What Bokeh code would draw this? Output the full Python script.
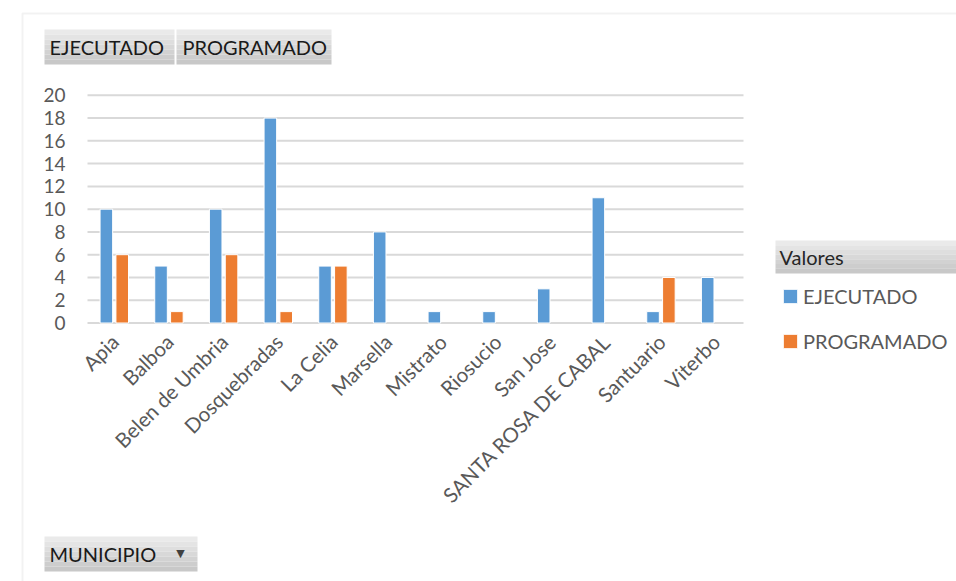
import numpy as np
from bokeh.plotting import figure
from bokeh.models import (ColumnDataSource, Range1d, Legend, LegendItem, Label,
                          BoxAnnotation, FixedTicker, LinearAxis)
from bokeh.transform import dodge
from bokeh.embed import file_html
from bokeh.resources import INLINE
from math import pi

categories = ["Apia", "Balboa", "Belen de Umbria", "Dosquebradas", "La Celia", "Marsella",
              "Mistrato", "Riosucio", "San Jose", "SANTA ROSA DE CABAL", "Santuario", "Viterbo"]
ejecutado = [10, 5, 10, 18, 5, 8, 1, 1, 3, 11, 1, 4]
programado = [6, 1, 6, 1, 5, None, None, None, None, None, 4, None]
y_ticks = [0, 2, 4, 6, 8, 10, 12, 14, 16, 18, 20]
series_names = ["EJECUTADO", "PROGRAMADO"]
axis_field = "MUNICIPIO"
legend_title = "Valores"

FONT = "Lato"
BLUE = "#5b9bd5"
ORANGE = "#ed7d31"
GRID = "#d9d9d9"

W, H = 956, 581
# plot area (pixels) inside the full-canvas frame
PX0, PX1 = 87, 743          # left/right of the category band
PY0, PY20 = 322.5, 94.8     # pixel rows of y=0 and y=20
n = len(categories)
U = (PX1 - PX0) / n
V = (PY0 - PY20) / 20.0
xs = -0.5 - PX0 / U
xe = xs + W / U
ys = -(H - PY0) / V
ye = PY0 / V

idx = np.arange(n)
src = ColumnDataSource(dict(
    idx=idx,
    cat=categories,
    eje=np.array(ejecutado, dtype=float),
    pro=np.array([np.nan if v is None else v for v in programado], dtype=float),
))

p = figure(width=W, height=H, output_backend="svg", toolbar_location=None,
           x_range=Range1d(xs, xe), y_range=Range1d(ys, ye),
           x_axis_type=None, y_axis_type=None,
           min_border=0, min_border_left=0, min_border_right=0,
           min_border_top=0, min_border_bottom=0,
           background_fill_color="white", border_fill_color="white")
p.outline_line_color = None

# outer chart border
p.add_layout(BoxAnnotation(left=22, right=2000, top=H - 13, bottom=-1000,
                           left_units="screen", right_units="screen", top_units="screen",
                           bottom_units="screen", fill_color=None, line_color="#d4d4d4",
                           line_width=2, level="underlay"))

# gridlines at the y ticks across the category band
p.segment(x0=-0.5, x1=n - 0.5, y0=y_ticks, y1=y_ticks, line_color=GRID, line_width=2)

r1 = p.vbar(x=dodge("idx", -0.155), top="eje", width=0.23, source=src,
            fill_color=BLUE, line_color="white", line_width=1)
r2 = p.vbar(x=dodge("idx", 0.135), top="pro", width=0.23, source=src,
            fill_color=ORANGE, line_color="white", line_width=1)

# axes placed inside the frame
yax = LinearAxis(fixed_location=-0.5, ticker=FixedTicker(ticks=y_ticks))
xax = LinearAxis(fixed_location=0, ticker=FixedTicker(ticks=list(idx)),
                 major_label_overrides={int(i): c for i, c in zip(idx, categories)})
for ax in (xax, yax):
    ax.axis_line_color = None
    ax.major_tick_line_color = None
    ax.minor_tick_line_color = None
    ax.major_tick_out = 0
    ax.major_tick_in = 0
    ax.major_label_text_font = FONT
    ax.major_label_text_color = "#595959"
yax.major_label_text_font_size = "19px"
yax.major_label_standoff = 22
xax.major_label_text_font_size = "20.5px"
xax.major_label_orientation = pi / 4
xax.major_label_standoff = 15
p.add_layout(yax, "left")
p.add_layout(xax, "below")

def button(x0, x1, y0, y1, text, tx, color="#1a1a1a"):
    k = 7
    shades = ["#eaeaea", "#e4e4e4", "#dedede", "#d8d8d8", "#d2d2d2", "#cdcdcd", "#c8c8c8"]
    h = (y1 - y0) / k
    for i in range(k):
        p.add_layout(BoxAnnotation(left=x0, right=x1, top=H - (y0 + i * h), bottom=H - (y0 + (i + 1) * h),
                                   left_units="screen", right_units="screen", top_units="screen",
                                   bottom_units="screen", fill_color=shades[i], fill_alpha=1,
                                   line_color=None))
    p.add_layout(Label(x=tx, y=H - (y0 + y1) / 2, x_units="screen", y_units="screen",
                       text=text, text_font=FONT, text_font_size="20px", text_color=color,
                       text_baseline="middle", text_align="left"))

button(44, 174, 29, 64, series_names[0], 49)
button(176, 331, 29, 64, series_names[1], 182)
button(775, 1000, 240, 273, legend_title, 779, "#262626")
button(44, 197, 536, 571, axis_field, 49)
p.add_layout(Label(x=180, y=H - 553, x_units="screen", y_units="screen", text="▼",
                   text_font="DejaVu Sans", text_font_size="11px", text_color="#404040",
                   text_baseline="middle", text_align="center"))

legend = Legend(items=[LegendItem(label=series_names[0], renderers=[r1]),
                       LegendItem(label=series_names[1], renderers=[r2])],
                location=(781, H - 353), orientation="vertical",
                padding=0, margin=0, border_line_color=None, background_fill_alpha=0,
                glyph_width=18, glyph_height=18, label_standoff=4, spacing=21,
                label_height=24, label_text_font=FONT, label_text_font_size="20px",
                label_text_color="#595959")
p.add_layout(legend)

open("out.html", "w").write(file_html(p, INLINE))
